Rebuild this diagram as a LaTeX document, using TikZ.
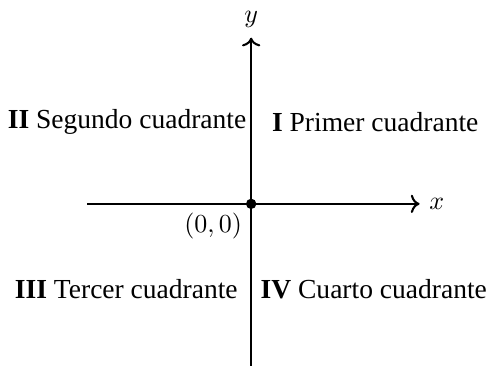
\documentclass[tikz,border=0pt]{standalone}
\usepackage{fontspec}
\setmainfont{Liberation Serif}
\usetikzlibrary{arrows.meta, positioning}

\tikzset{
    axis/.style={thick},
    quadlabel/.style={inner sep=2pt, font=\fontsize{10.6}{12}\selectfont}
}

\begin{document}
\begin{tikzpicture}
        % Define dimensions
        \def\xmin{-2.22}
        \def\xmax{2.28}
        \def\ymin{-2.19}
        \def\ymax{2.25}
        \useasboundingbox (-3.40,-2.19) rectangle (3.22,2.76);
        % Axis ends
        \coordinate (O) at (0,0);
        \coordinate (xl) at (\xmin,0);
        \coordinate (xr) at (\xmax,0);
        \coordinate (yb) at (0,\ymin);
        \coordinate (yt) at (0,\ymax);
        % Axes
        \draw[axis,->] (xl) -- (xr) node[right] (xlab) {$x$};
        \draw[axis,->] (yb) -- (yt) node[above] (ylab) {$y$};
        % Origin
        \fill (O) circle (2pt);
        \node[below left] (olab) at (O) {$(0,0)$};
        % Quadrant labels
        \node[quadlabel] (q1) at (1.68,1.11) {\textbf{I} Primer cuadrante};
        \node[quadlabel] (q2) at (-1.68,1.11) {\textbf{II} Segundo cuadrante};
        \node[quadlabel] (q3) at (-1.69,-1.16) {\textbf{III} Tercer cuadrante};
        \node[quadlabel] (q4) at (1.66,-1.16) {\textbf{IV} Cuarto cuadrante};
    \end{tikzpicture}
\end{document}
